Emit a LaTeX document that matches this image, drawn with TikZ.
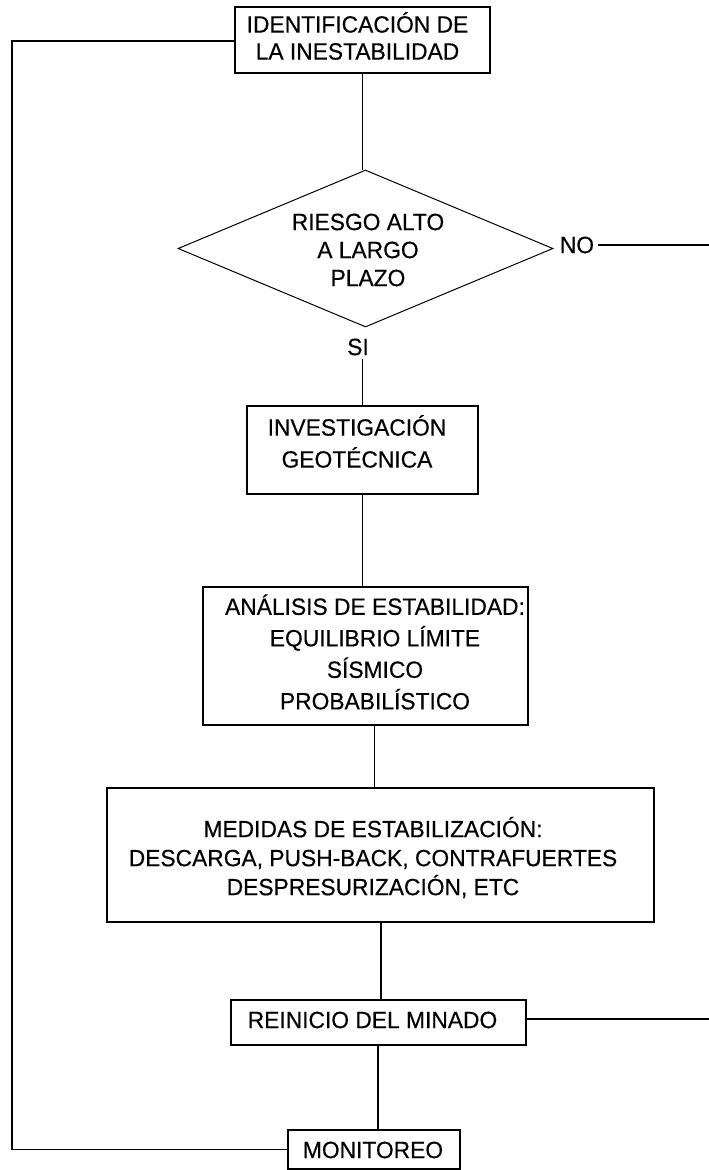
\documentclass[tikz,border=0pt]{standalone}
\usepackage{fontspec}
\setmainfont{Liberation Sans}[FakeStretch=0.97,FakeBold=0.4]
\usetikzlibrary{shapes.geometric}
\begin{document}
\begin{tikzpicture}[x=1pt,y=-1pt,
  boxnode/.style={draw, line width=1.8pt, rectangle, inner sep=0pt},
  decision/.style={draw, diamond, line width=1pt, inner sep=0pt},
  txt/.style={font=\fontsize{23.5}{28}\selectfont, align=center, inner sep=0pt},
  conn/.style={line width=1.6pt, line join=miter}]
\useasboundingbox (0,0) rectangle (709,1170);
% boxes
\node[boxnode, minimum width=255pt, minimum height=66pt] (b1) at (362.5,40) {};
\node[decision, minimum width=375pt, minimum height=157pt] (d) at (365.5,248.5) {};
\node[boxnode, minimum width=231pt, minimum height=88pt] (b2) at (362.5,450) {};
\node[boxnode, minimum width=325pt, minimum height=138pt] (b3) at (365.5,656) {};
\node[boxnode, minimum width=547pt, minimum height=134pt] (b4) at (380.5,855) {};
\node[boxnode, minimum width=295pt, minimum height=45pt] (b5) at (378.5,1022.5) {};
\node[boxnode, minimum width=172pt, minimum height=39pt] (b6) at (374,1149.5) {};
% texts
\node[txt, font=\fontsize{23.5}{27}\selectfont] (t1) at (357.5,36) {IDENTIFICACIÓN DE\\LA INESTABILIDAD};
\node[txt] (td) at (368,250) {RIESGO ALTO\\A LARGO\\PLAZO};
\node[txt] (no) at (577,245) {NO};
\node[txt] (si) at (358,347) {SI};
\node[txt, font=\fontsize{23.5}{32}\selectfont] (t2) at (357,441.5) {INVESTIGACIÓN\\GEOTÉCNICA};
\node[txt, font=\fontsize{23.5}{31.5}\selectfont] (t3) at (375,652) {ANÁLISIS DE ESTABILIDAD:\\EQUILIBRIO LÍMITE\\SÍSMICO\\PROBABILÍSTICO};
\node[txt, font=\fontsize{23.5}{29}\selectfont] (t4) at (373,857.5) {MEDIDAS DE ESTABILIZACIÓN:\\DESCARGA, PUSH-BACK, CONTRAFUERTES\\DESPRESURIZACIÓN, ETC};
\node[txt] (t5) at (372.5,1020) {REINICIO DEL MINADO};
\node[txt] (t6) at (373,1150) {MONITOREO};
% helper coordinates
\coordinate (noend) at (709,245);
\coordinate (reend) at (709,1019);
\coordinate (x34) at (374.5,0);
\coordinate (x45) at (381,0);
\coordinate (x56) at (378,0);
\coordinate (lc1) at (12,1149.5);
\coordinate (lc2) at (12,41);
% connectors
\draw[conn] (b1.south) -- (b1.south |- d.north);
\draw[conn] ([yshift=-3pt]b2.north |- si.south) -- (b2.north);
\draw[conn] ([xshift=4pt]no.east |- noend) -- (noend);
\draw[conn] (b2.south) -- (b2.south |- b3.north);
\draw[conn] (x34 |- b3.south) -- (x34 |- b4.north);
\draw[conn] (x45 |- b4.south) -- (x45 |- b5.north);
\draw[conn] (x56 |- b5.south) -- (x56 |- b6.north);
\draw[conn] (b5.east |- reend) -- (reend);
\draw[conn] (b6.west) -- (lc1) -- (lc2) -- (lc2 -| b1.west);
\end{tikzpicture}
\end{document}
